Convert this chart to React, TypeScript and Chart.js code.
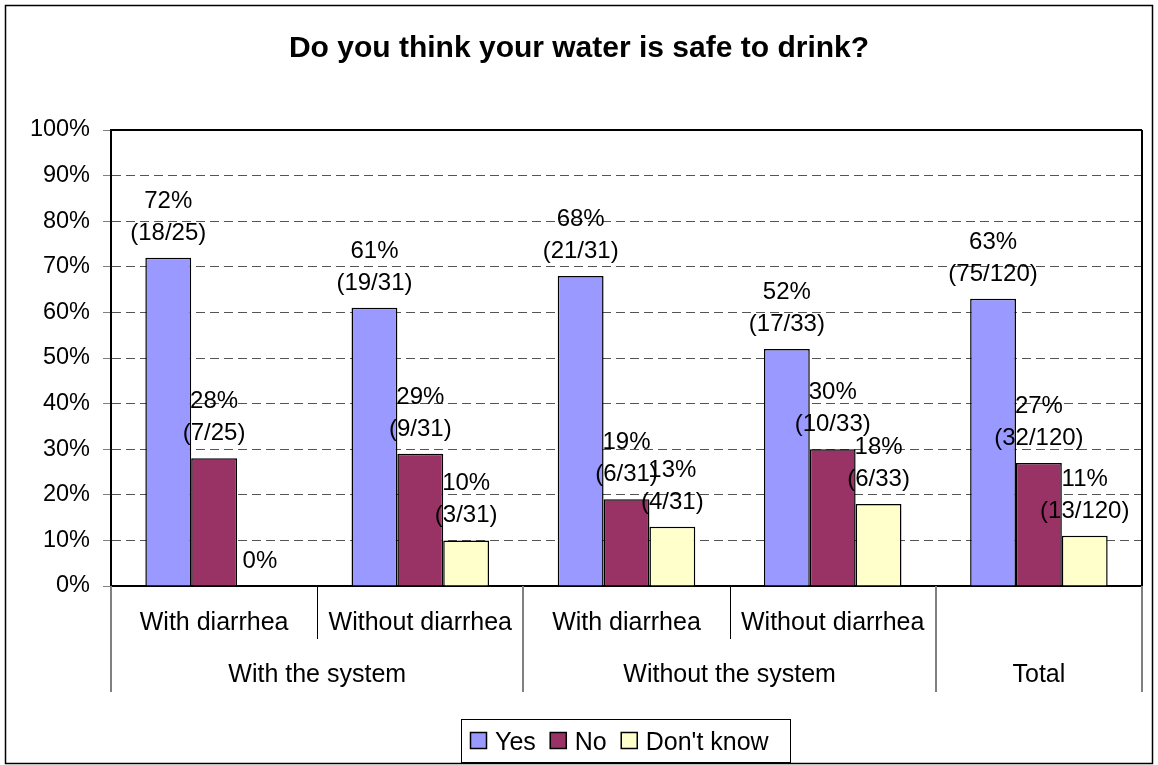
import { useEffect, useRef } from 'react';
import { Chart, registerables } from 'chart.js';

Chart.register(...registerables);

// Survey: "Do you think your water is safe to drink?"
const chartTitle = 'Do you think your water is safe to drink?';
const subCategories = ['With diarrhea', 'Without diarrhea', 'With diarrhea', 'Without diarrhea', ''];
const groupNames = ['With the system', 'Without the system', 'Total'];
const groupSpans = [2, 2, 1];
const seriesNames = ['Yes', 'No', "Don't know"];
const seriesColors = ['#9999FF', '#993366', '#FFFFCC'];
const yesValues = [72, 61, 68, 52, 63];
const noValues = [28, 29, 19, 30, 27];
const dontKnowValues = [0, 10, 13, 18, 11];
const yesCounts = ['(18/25)', '(19/31)', '(21/31)', '(17/33)', '(75/120)'];
const noCounts = ['(7/25)', '(9/31)', '(6/31)', '(10/33)', '(32/120)'];
const dontKnowCounts = ['', '(3/31)', '(4/31)', '(6/33)', '(13/120)'];
const yTickValues = [0, 10, 20, 30, 40, 50, 60, 70, 80, 90, 100];

const W = 1158;
const H = 765;
const FAMILY = '"Liberation Sans", Arial, Helvetica, sans-serif';
const TICK_SIZE = 23.5;
const VALUE_SIZE = 24;
const CATEGORY_SIZE = 25;
const LEGEND_SIZE = 25;
const TITLE_SIZE = 30;

const allValues = [yesValues, noValues, dontKnowValues];
const allCounts = [yesCounts, noCounts, dontKnowCounts];

function line(ctx: CanvasRenderingContext2D, x1: number, y1: number, x2: number, y2: number) {
  ctx.beginPath();
  ctx.moveTo(x1, y1);
  ctx.lineTo(x2, y2);
  ctx.stroke();
}

const decorations = {
  id: 'decorations',
  beforeDraw(chart: any) {
    const ctx = chart.ctx as CanvasRenderingContext2D;
    ctx.save();
    ctx.fillStyle = '#ffffff';
    ctx.fillRect(0, 0, W, H);
    ctx.strokeStyle = '#000000';
    ctx.lineWidth = 1.5;
    ctx.strokeRect(5.5, 5.5, 1147, 758);
    ctx.fillStyle = '#000000';
    ctx.font = `bold ${TITLE_SIZE}px ${FAMILY}`;
    ctx.textAlign = 'center';
    ctx.textBaseline = 'alphabetic';
    ctx.fillText(chartTitle, W / 2, 57);
    ctx.restore();
  },
  afterDatasetsDraw(chart: any) {
    const ctx = chart.ctx as CanvasRenderingContext2D;
    ctx.save();
    ctx.fillStyle = '#000000';
    ctx.font = `${VALUE_SIZE}px ${FAMILY}`;
    ctx.textAlign = 'center';
    ctx.textBaseline = 'alphabetic';
    allValues.forEach((values, di) => {
      const meta = chart.getDatasetMeta(di);
      meta.data.forEach((bar: any, j: number) => {
        const { x, y } = bar.getProps(['x', 'y'], true);
        const pct = `${values[j]}%`;
        const count = allCounts[di][j];
        if (count) {
          ctx.fillText(pct, x, y - 50);
          ctx.fillText(count, x, y - 18);
        } else {
          ctx.fillText(pct, x, y - 18);
        }
      });
    });
    ctx.restore();
  },
  afterDraw(chart: any) {
    const ctx = chart.ctx as CanvasRenderingContext2D;
    const { left, right, top, bottom } = chart.chartArea;
    const xScale = chart.scales.x;
    const n = subCategories.length;
    const step = (right - left) / n;
    ctx.save();
    // plot frame (top and right edges)
    ctx.strokeStyle = '#000000';
    ctx.lineWidth = 2;
    line(ctx, left, top, right, top);
    line(ctx, right, top, right, bottom);

    // first-level category labels
    ctx.fillStyle = '#000000';
    ctx.font = `${CATEGORY_SIZE}px ${FAMILY}`;
    ctx.textAlign = 'center';
    ctx.textBaseline = 'alphabetic';
    subCategories.forEach((label, i) => {
      if (label) ctx.fillText(label, xScale.getPixelForValue(i), bottom + 44);
    });
    // second-level group labels, inner and outer separators
    let start = 0;
    const boundaries: number[] = [0];
    groupSpans.forEach((span, g) => {
      const x0 = left + start * step;
      const x1 = left + (start + span) * step;
      ctx.fillText(groupNames[g], (x0 + x1) / 2, bottom + 96);
      for (let k = start + 1; k < start + span; k++) {
        ctx.strokeStyle = '#000000';
        ctx.lineWidth = 1;
        const xs = Math.round(left + k * step) + 0.5;
        line(ctx, xs, bottom, xs, bottom + 53);
      }
      start += span;
      boundaries.push(start);
    });
    ctx.strokeStyle = '#808080';
    ctx.lineWidth = 2;
    boundaries.forEach((b) => {
      const xs = Math.round(left + b * step);
      line(ctx, xs, bottom, xs, bottom + 106);
    });

    // legend
    const boxL = 461;
    const boxT = 719;
    const boxW = 329;
    const boxH = 43;
    ctx.strokeStyle = '#000000';
    ctx.lineWidth = 1;
    ctx.strokeRect(boxL + 0.5, boxT + 0.5, boxW, boxH);
    ctx.font = `${LEGEND_SIZE}px ${FAMILY}`;
    ctx.textAlign = 'left';
    const sq = 17;
    const gapText = 8;
    const gapItem = 14;
    let cx = boxL + 9;
    const baseY = boxT + 31;
    seriesNames.forEach((s, i) => {
      ctx.fillStyle = seriesColors[i];
      ctx.fillRect(cx, baseY - 18, sq, sq);
      ctx.strokeStyle = '#000000';
      ctx.lineWidth = 1.5;
      ctx.strokeRect(cx + 0.5, baseY - 18 + 0.5, sq - 1, sq - 1);
      ctx.fillStyle = '#000000';
      ctx.fillText(s, cx + sq + gapText, baseY);
      cx += sq + gapText + ctx.measureText(s).width + gapItem;
    });
    ctx.restore();
  },
};

export default function App() {
  const canvasRef = useRef<HTMLCanvasElement | null>(null);

  useEffect(() => {
    const canvas = canvasRef.current;
    if (!canvas) return;
    const chart = new Chart(canvas, {
      type: 'bar',
      data: {
        labels: subCategories.map((_, i) => String(i)),
        datasets: allValues.map((values, i) => ({
          label: seriesNames[i],
          data: values,
          backgroundColor: seriesColors[i],
          borderColor: '#000000',
          borderWidth: 1.5,
          categoryPercentage: 0.667,
          barPercentage: 1,
        })),
      },
      options: {
        responsive: false,
        devicePixelRatio: 1,
        animation: false,
        layout: { padding: { left: 0, right: 16, top: 130, bottom: 0 } },
        plugins: {
          legend: { display: false },
          title: { display: false },
          tooltip: { enabled: false },
        },
        scales: {
          x: {
            type: 'category',
            offset: true,
            ticks: { display: false },
            grid: { display: false },
            border: { display: true, color: '#000000', width: 2 },
            afterFit: (scale: any) => {
              scale.height = 179;
            },
          },
          y: {
            min: 0,
            max: 100,
            afterBuildTicks: (scale: any) => {
              scale.ticks = yTickValues.map((v) => ({ value: v }));
            },
            ticks: {
              callback: (v: any) => `${v}%`,
              color: '#000000',
              padding: 13,
              font: { family: FAMILY, size: TICK_SIZE },
            },
            grid: {
              color: (c: any) => (c.tick && (c.tick.value === 0 || c.tick.value === 100) ? 'rgba(0,0,0,0)' : '#555555'),
              lineWidth: 1,
              tickLength: 8,
              tickColor: '#808080',
              tickWidth: 1,
              tickBorderDash: [],
            },
            border: { display: true, color: '#000000', width: 2, dash: [9, 5] },
            afterFit: (scale: any) => {
              scale.width = 111;
            },
          },
        },
      },
      plugins: [decorations],
    });
    return () => chart.destroy();
  }, []);

  return (
    <div style={{ position: 'fixed', left: 0, top: 0, width: W, height: H, background: '#fff' }}>
      <canvas ref={canvasRef} width={W} height={H} style={{ display: 'block', width: W, height: H }} />
    </div>
  );
}
